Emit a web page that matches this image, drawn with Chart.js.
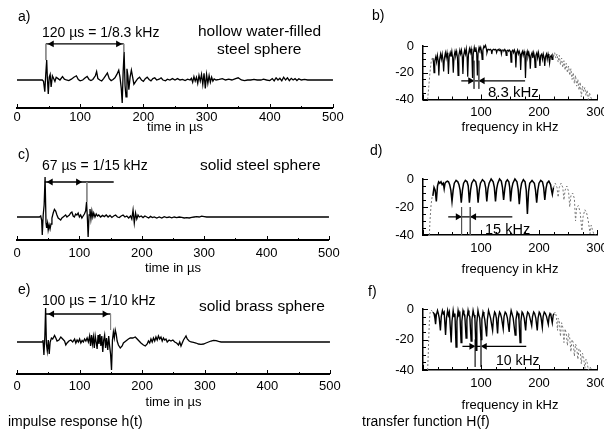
<!DOCTYPE html>
<html><head><meta charset="utf-8">
<script src="https://cdn.jsdelivr.net/npm/chart.js@4.4.1/dist/chart.umd.min.js"></script>
<style>
html,body{margin:0;padding:0;background:#fff;overflow:hidden;width:604px;height:430px}
#wrap{position:relative;width:604px;height:430px;overflow:hidden;font-family:"Liberation Sans",Arial,Helvetica,sans-serif;color:#000}
.cv{position:absolute}
.t{position:absolute;white-space:nowrap;line-height:1;transform:translateY(-50%)}
</style></head><body><div id="wrap">
<div class="cv" style="left:0;top:0"><canvas id="ca" width="345" height="140"></canvas></div>
<div class="cv" style="left:0;top:140px"><canvas id="cc" width="345" height="140"></canvas></div>
<div class="cv" style="left:0;top:280px"><canvas id="ce" width="345" height="150"></canvas></div>
<div class="cv" style="left:360px;top:0"><canvas id="cb" width="260" height="140"></canvas></div>
<div class="cv" style="left:360px;top:140px"><canvas id="cd" width="260" height="140"></canvas></div>
<div class="cv" style="left:360px;top:280px"><canvas id="cf" width="260" height="150"></canvas></div>

<div class="t" style="left:18px;top:16px;font-size:14px">a)</div>
<div class="t" style="left:372px;top:15px;font-size:14px">b)</div>
<div class="t" style="left:18px;top:154px;font-size:14px">c)</div>
<div class="t" style="left:370px;top:150px;font-size:14px">d)</div>
<div class="t" style="left:18px;top:289px;font-size:14px">e)</div>
<div class="t" style="left:368px;top:291px;font-size:14px">f)</div>
<div class="t" style="left:42px;top:32px;font-size:14px">120 µs = 1/8.3 kHz</div>
<div class="t" style="left:198px;top:31px;font-size:15.5px">hollow water-filled</div>
<div class="t" style="left:217px;top:49px;font-size:15.5px">steel sphere</div>
<div class="t" style="left:42px;top:165px;font-size:14px">67 µs = 1/15 kHz</div>
<div class="t" style="left:200px;top:165px;font-size:15.5px">solid steel sphere</div>
<div class="t" style="left:42px;top:300px;font-size:14px">100 µs = 1/10 kHz</div>
<div class="t" style="left:199px;top:306px;font-size:15.5px">solid brass sphere</div>
<div class="t" style="left:8px;top:421px;font-size:14px">impulse response h(t)</div>
<div class="t" style="left:488px;top:91px;font-size:15px">8.3 kHz</div>
<div class="t" style="left:485px;top:229px;font-size:14.5px">15 kHz</div>
<div class="t" style="left:496px;top:360px;font-size:14px">10 kHz</div>
<div class="t" style="left:362px;top:421px;font-size:14px">transfer function H(f)</div>
</div>
<script>
// ---------- tick labels ----------
const timeTickLabels = [0, 100, 200, 300, 400, 500];
const freqTickLabels = [100, 200, 300];
const dbTickLabels = [0, -20, -40];

// ---------- a) hollow water-filled steel sphere : impulse response ----------
const tA = [0,40,42,44,45.5,47,48,49.5,51,52.5,54,56,58,60,62,65,68,72,75,78,82,86,90,94,97,100,104,108,111,114,117,120,124,126,128,131,134,137,140,143,146,149,152,155,158,161,163,165,166.5,168,169.5,171,172.5,174,175.5,177,179,181,183,185,188,191,194,197,200,203,206,209,212,215,218,221,225,228,231,235,238,242,246,250,254,258,262,266,270,274,276,278,280,282,284,286,288,290,292,294,296,298,300,302,304,306,308,310,312,315,320,325,330,335,340,346,350,355,360,365,370,375,380,386,390,395,400,404,407,410,413,416,419,422,425,428,431,434,437,440,443,446,450,455,460,470,480,490,500];
const hA = [0,0,-0.05,-0.42,0.2,0.71,0.1,-0.5,0.1,0.2,-0.25,0.15,0.05,-0.05,0.1,0.05,0,0.12,0.03,0,-0.02,0.03,0.1,0.15,0.02,-0.03,0,0.08,0.13,0.02,-0.02,0.02,0.15,0.3,0.05,0,-0.03,0.05,0.15,0.25,0.05,-0.02,0.02,0.08,0.2,0.35,0.1,-0.3,-0.82,0.3,1.0,-0.2,-0.6,0.4,0.15,-0.35,0.1,0.35,0.1,-0.15,-0.05,0.05,0.1,0,-0.05,0.05,0.1,0.02,-0.03,0.05,0.08,0,0.03,0.08,0,-0.03,0.03,0,0.05,0,0.05,0,0.02,-0.02,0.03,0,0.06,-0.08,0.12,-0.04,0.1,-0.12,0.16,-0.04,0.2,-0.16,0.24,-0.3,0.2,-0.12,0.16,-0.08,0.1,-0.04,0.04,0,0.02,0.05,0,0.03,0,0.05,0.08,0,-0.02,0,0,0.02,0,0,0.03,0,-0.02,0.05,-0.03,0.08,0,0.06,-0.03,0.1,0,0.08,-0.02,0.06,0,0.05,-0.02,0.04,0,0.02,0,0,0,0,0];
const markA = [45.7, 169];        // marker times (µs)
const markTopA = 1.29;             // arrow level
const markBotA = [0.71, 1.0];      // lower ends of the marker lines
const headA = [55, 160];           // arrowhead centres (µs)
const lineA = [45.7, 169];         // arrow shaft

// ---------- c) solid steel sphere ----------
const tC = [0,36,38,39.5,40.5,42,43.5,45,46.5,47.5,49,50,51.5,53,54.5,56,58,60,62,64,66,68,70,72,74,76,78,80,82,84,86,88,90,92,94,96,98,100,102,104,106,108,110,111.5,113,114,115.5,117,118.5,120,121.5,123,125,127,129,131,134,137,140,143,146,149,152,155,158,161,164,167,170,173,176,179,182,184,186,188,190,192,194,196,199,202,205,208,211,214,217,220,224,228,232,236,240,244,248,252,256,260,264,268,272,276,280,284,288,292,296,300,304,320,500];
const hC = [0,0,0.05,-0.15,-0.9,0.1,0.6,2.0,-0.3,-0.55,-0.3,-0.65,-0.4,-0.6,-0.35,-0.05,0.2,0.38,0.3,0.1,-0.05,-0.1,-0.15,-0.05,0,0.05,0.1,0,0.05,0.1,0.2,0.25,0.05,0,0.15,0.1,0.2,0,0.1,-0.05,0.05,0.15,0.3,0.75,-0.2,-1.0,0.1,0.4,-0.1,0.3,0,0.2,0,0.15,0.05,0.1,0,0.08,0.02,0.1,0,0.08,-0.02,0.05,0.1,0,-0.03,0.05,0.1,0,0.05,-0.05,0.05,-0.1,0.35,-0.3,0.2,-0.1,0.1,0,0.05,-0.03,0.05,0,-0.05,0.03,-0.03,0,-0.05,0,-0.05,0.02,-0.03,0,-0.04,0,-0.03,0,-0.02,-0.05,-0.03,-0.05,-0.02,0,0.02,0,0.04,0.02,0,0,0];
const markC = [44.5, 112];
const markTopC = 1.75;
const markBotC = [1.75, 0.75];
const headC = [54, 98];
const lineC = [44.5, 155];

// ---------- e) solid brass sphere ----------
const tE = [0,40,41.5,43,44.5,45.7,47,48.4,50,51.5,53,55,57,60,62,64,67,70,73,76,78,80,83,86,89,92,94,96,98,100,102,104,106,108,110,112,114,116,117.5,119,120.5,122,123.5,125,126.5,128,129.5,131,132.5,134,135.5,137,138.5,140,141.5,143,145,146.5,148,149.5,151,152.5,154,155.5,157,158.5,160,162,165,168,170,174,178,181,185,189,192,195,198,202,205,208,210,212,214,216,218,220,222,224,226,228,230,232,234,236,238,240,243,246,249,252,255,258,260,262,264,266,268,270,272,275,278,282,286,290,294,298,302,306,310,314,318,322,326,332,500];
const hE = [0,0,0.1,-0.65,0.3,1.7,-0.1,-0.45,0.1,-0.6,0,0.2,0.15,0.33,0.2,0.05,0.1,0.25,0.15,0.05,-0.15,-0.05,0.05,0.1,0,0.15,-0.05,0.1,0,0.15,-0.05,0.08,0,0.15,0.05,0.2,0,0.3,-0.2,0.35,-0.1,0.25,-0.3,0.3,0,-0.35,0.35,-0.1,0.4,-0.2,0.3,-0.5,0.1,0.35,-0.3,0.2,-0.4,0.3,-0.2,-0.6,-1.4,0.1,0.5,0.2,0.6,0.4,0.05,-0.15,-0.3,-0.2,-0.05,0.05,0.15,0.2,0.2,0.25,0.15,0.05,-0.05,-0.15,-0.2,-0.1,0.05,-0.05,0.15,0,0.2,0.05,0.25,0.1,0.3,0.15,0.25,0.05,0.2,0.1,0.15,0,0.1,0.05,0.1,0,-0.05,-0.15,0,-0.2,-0.05,0.1,0.2,0.3,0.15,0.05,0,-0.02,-0.05,-0.1,-0.12,-0.1,-0.05,0,0.05,0.08,0.07,0.03,0,0,0];
const markE = [45.7, 149.5];
const markTopE = 1.4;
const markBotE = [1.4, 0.6];
const headE = [56, 140];
const lineE = [45.7, 149.5];

// ---------- b) transfer function, hollow sphere ----------
const fB = [17,18,19,20.3,22,23.3,24.8,26.2, 27.3,28.6,30.3,31.6,33.1,34.5, 35.6,36.9,38.6,39.9,41.4,42.8, 43.9,45.2,46.9,48.2,49.7,51.1, 52.2,53.5,55.2,56.5,58,59.4, 60.5,61.8,63.5,64.8,66.3,67.7, 68.8,70.1,71.8,73.1,74.6,76, 77.1,78.4,80.1,81.4,82.9,84.3, 85.4,86.7,88.4,89.7,91.2,92.6, 93.7,95,96.7,98,99.5,100.9, 102,103.3,105,106.3,107.8,109.2, 110.3,111.6,113.3,114.6,116.1,117.5, 118.6,119.9,121.6,122.9,124.4,125.8, 126.9,128.2,129.9,131.2,132.7,134.1, 135.2,136.5,138.2,139.5,141,142.4, 143.5,144.8,146.5,147.8,149.3,150.7, 151.8,153.1,154.8,156.1,157.6,159, 160.1,161.4,163.1,164.4,165.9,167.3, 168.4,169.7,171.4,172.7,174.2,175.6, 176.7,178,179.7,181,182.5,183.9, 185,186.3,188,189.3,190.8,192.2, 193.3,194.6,196.3,197.6,199.1,200.5, 201.6,202.9,204.6,205.9,207.4,208.8, 209.9,211.2,212.9,214.2,215.7,217.1, 218.2,219.5,221.2,222.5,224,225];
const dbB = [-9,-12,-20,-11,-8,-12,-7,-11, -22,-10,-6,-10,-6,-11, -19,-9,-5,-9,-5,-10, -21,-8,-5,-8,-4,-9, -20,-8,-4,-7,-4,-9, -22,-7,-3,-6,-3,-8, -21,-7,-3,-6,-2,-8, -23,-6,-2,-5,-2,-7, -24,-6,-1,-4,-1,-6, -22,-5,-1,-3,-1,-4, -10,-3,0,-1,0.5,-2, -5,-3,-2.5,-3,-2.5,-3, -6,-3,-2.5,-3,-2.5,-3, -5,-3,-2.5,-3.5,-2.5,-3, -6,-3,-3,-3.5,-2.5,-3.5, -7,-3.5,-3,-4,-3,-4, -12,-4,-3,-5,-3,-5, -16,-5,-3,-6,-4,-6, -18,-6,-4,-7,-4,-7, -24,-7,-4,-8,-5,-8, -17,-7,-5,-9,-5,-8, -16,-7,-5,-9,-5,-9, -15,-7,-6,-10,-6,-9, -15,-8,-6,-10,-6,-9, -13,-8,-7,-10,-7,-8];
const fBlow = [8,10,12,14,16,17];
const dbBlow = [-40,-30,-20,-12,-9,-9];
const fBhigh = [225,227,229,231,233,235,237,239,241,243,245,247,249,251,253,255,257,259,261,263,265,267,269,271,273,275,277,279,281,283,285,287,289,291];
const dbBhigh = [-8,-5,-9,-6,-12,-7,-14,-9,-16,-11,-18,-13,-20,-15,-22,-17,-25,-20,-28,-22,-30,-25,-33,-27,-38,-30,-34,-31,-37,-33,-40,-35,-38,-40];
const markB = [88, 96.3];
const markTopB = -11, markBotB = -32;
const arrowYB = -26;
const headB = [81.5, 102.8];
const lineB = [66, 176];

// ---------- d) transfer function, solid steel sphere ----------
const fD = [17,19,21,23,25,27,29,31,33,35,36.5,38,40,42,44,46,48,50,52,54,57,60,62,64,66,68,70,73,76,78,80,82,84,87.5,91,93,95,97,99,102.5,106,108,110,112,114,117.5,121,123,125,127,129,132,135,137,139,141,143,145.5,148,149.5,151,153,155,158.5,162,164,166,168,170,173,176,178,180,182,184,188,192,194,196,198,200,203,206,208,210,212,214,217,220,221.5,223,225];
const dbD = [-12,-6,-8,-16,-5,-2,-3,-2,-4,-3,-7,-3,-2,-1.5,-2,-4,-8,-16,-8,-3,-1,-2,-4,-8,-17,-8,-3,-1,-2,-5,-17,-8,-3,-0.5,-2,-6,-17,-8,-3,-0.5,-2,-6,-16,-7,-3,0,-2,-6,-16,-7,-3,0,-1.5,-6,-15,-7,-2,-0.5,-2,-6,-16,-7,-3,0,-2,-7,-18,-8,-3,-0.5,-2,-8,-25,-9,-3,-1,-3,-8,-17,-8,-3,-1,-2,-6,-15,-7,-3,-1.5,-4,-8,-11,-6];
const fDlow = [11,12,14,16,17];
const dbDlow = [-40,-30,-18,-12,-12];
const fDhigh = [225,228,231,233,235,238,241,243,245,248,251,253,255,258,261,263,265,268,271,274,276,279,282,285,288,290,292,295,298];
const dbDhigh = [-6,-3,-6,-13,-6,-3,-6,-15,-8,-5,-9,-20,-12,-10,-14,-30,-20,-19,-24,-37,-27,-22,-24,-30,-39,-33,-36,-40,-40];
const markD = [66.5, 81.5];
const markTopD = -20, markBotD = -40;
const arrowYD = -27;
const headD = [60, 88];
const lineD = [43.5, 154];

// ---------- f) transfer function, solid brass sphere ----------
const fF = [17,19,20.5,21.7,23,25,26.5,28,30,31.5,33.5,35,36.5,38.9,40.5,42.5,44,45.5,48.6,50,52,53.5,55,57,58.5,60.5,62,63.5,65.7,67,69,70.5,72,74.3,75.7,77.7,79.2,80.7,83,84.4,86.4,88,89.5,91.4,92.8,94.8,96.3,97.8,100,101.5,103.5,105,106.5,109.7,111,113,114.5,116.5,120,121.5,123.5,125,126.5,128.6,130,132,133.5,135.5,138.3,139.7,141.7,143.5,145.5,148.6,150,152,153.5,155.5,158.9,160.3,162.3,164,165.5,167.4,168.8,170.8,172.5,174.5,177,178.4,180.4,182.5,184.5,187.4,188.8,190.8,192.5,194.5,197,198.4,200.4,202,203.7,205.7,207.1,209.1,211,213,216,217.4,219,220.5,222.9,224.5,226];
const dbF = [-2,-3,-6,-10,-4,-1,-3,-6,-14,-5,-1,-3,-2,-17,-6,-1,-4,-2,-22,-8,-1,-5,-3,-25,-8,-1,-4,-3,-22,-8,-1,-3,-4,-19,-7,-1,-4,-5,-21,-7,-1,-4,-6,-27,-9,-1,-4,-6,-20,-7,-2,-4,-7,-18,-7,-1,-3,-6,-14,-6,-2,-3,-6,-16,-6,-2,-3,-6,-13,-5,-2,-3,-6,-15,-6,-1,-3,-6,-17,-7,-2,-3,-7,-22,-8,-2,-3,-6,-14,-6,-2,-3,-6,-11,-5,-2,-3,-6,-14,-6,-2,-3,-6,-12,-5,-2,-3,-5,-10,-5,-3,-4,-9,-4,-3];
const fFlow = [8,9,10,11,12,13,15,17];
const dbFlow = [-40,-30,-18,-8,-3,-1,-1,-2];
const fFhigh = [226,228,230,232,233,235,237,239,241,243,245,247,249,251,253,255,257,259,261,263,265,267,269,271,273,275,277,279,281,283,285,288,291];
const dbFhigh = [-3,-2,-5,-14,-6,-8,-18,-9,-12,-22,-13,-16,-24,-16,-19,-28,-20,-22,-31,-23,-25,-33,-26,-27,-36,-29,-32,-39,-33,-35,-40,-38,-40];
const markF = [90, 100];
const markTopF = -20, markBotF = -38;
const arrowYF = -24.5;
const headF = [83.5, 106.5];
const lineF = [68, 178];

// ---------- helpers ----------
Chart.defaults.font.family = '"Liberation Sans", Arial, Helvetica, sans-serif';
Chart.defaults.color = '#000';

function xy(xs, ys) { return xs.map((x, i) => ({x: x, y: ys[i]})); }

const inTicks = {
  id: 'inTicks',
  afterDraw(chart, args, o) {
    const ctx = chart.ctx, a = chart.chartArea;
    ctx.save(); ctx.strokeStyle = '#000'; ctx.lineWidth = 1;
    if (o.x) {
      const s = chart.scales.x;
      s.ticks.forEach(t => {
        const p = Math.round(s.getPixelForValue(t.value)) + 0.5;
        const len = (t.value % o.x.every === 0) ? o.x.major : o.x.minor;
        ctx.beginPath(); ctx.moveTo(p, a.bottom); ctx.lineTo(p, a.bottom - len); ctx.stroke();
      });
    }
    if (o.y) {
      const s = chart.scales.y;
      s.ticks.forEach(t => {
        const p = Math.round(s.getPixelForValue(t.value)) + 0.5;
        const len = (t.value % o.y.every === 0) ? o.y.major : o.y.minor;
        ctx.beginPath(); ctx.moveTo(a.left, p); ctx.lineTo(a.left + len, p); ctx.stroke();
      });
    }
    ctx.restore();
  }
};

function seg(x1, y1, x2, y2, color, w) {
  return {data: [{x: x1, y: y1}, {x: x2, y: y2}], borderColor: color, borderWidth: w, pointRadius: 0, clip: false};
}
function heads(xs, y, rots) {
  return {data: xs.map(x => ({x: x, y: y})), showLine: false, pointStyle: 'triangle', pointRadius: 4,
    pointRotation: rots, pointBackgroundColor: '#000', pointBorderColor: '#000', pointBorderWidth: 0, clip: false};
}

function timeChart(id, t, h, mark, top, bot, head, line, c) {
  new Chart(document.getElementById(id), {
    type: 'line',
    data: {datasets: [
      {data: xy(t, h), borderColor: '#000', borderWidth: 1.3, pointRadius: 0, clip: false},
      seg(mark[0], top, mark[0], bot[0], '#888', 1),
      seg(mark[1], top, mark[1], bot[1], '#888', 1),
      seg(line[0], top, line[1], top, '#000', 1.3),
      heads(head, top, [-90, 90])
    ]},
    options: {
      responsive: false, animation: false, devicePixelRatio: 1,
      layout: {padding: {left: 17, right: 11, top: c.top, bottom: 0}},
      plugins: {legend: {display: false}, tooltip: {enabled: false}, inTicks: {x: {every: 100, major: 4, minor: 2}}},
      scales: {
        x: {type: 'linear', min: 0, max: 500,
          ticks: {stepSize: 50, padding: c.tp, autoSkip: false, maxRotation: 0, font: {size: 13},
            callback: v => timeTickLabels.includes(v) ? String(v) : ''},
          grid: {display: false, drawTicks: false},
          border: {display: true, color: '#000', width: 2},
          title: {display: true, text: 'time in µs', font: {size: 13}, padding: {top: 0, bottom: c.pb}},
          afterFit: s => { s.height = c.xh; }},
        y: {display: false, min: c.ymin, max: c.ymax}
      }
    },
    plugins: [inTicks]
  });
}

function freqChart(id, f, db, fl, dbl, fh, dbh, mark, mTop, mBot, ay, head, line, c) {
  const gray = xy(fl, dbl).concat([{x: (fl[fl.length - 1] + fh[0]) / 2, y: null}], xy(fh, dbh));
  new Chart(document.getElementById(id), {
    type: 'line',
    data: {datasets: [
      {data: gray, borderColor: '#777', borderWidth: 1, borderDash: [2, 2], pointRadius: 0, spanGaps: false, clip: false},
      {data: xy(f, db), borderColor: '#000', borderWidth: c.lw, pointRadius: 0, clip: false},
      seg(mark[0], mTop, mark[0], mBot, '#555', 1),
      seg(mark[1], mTop, mark[1], mBot, '#555', 1),
      seg(line[0], ay, line[1], ay, '#000', 1.2),
      heads(head, ay, [90, -90])
    ]},
    options: {
      responsive: false, animation: false, devicePixelRatio: 1,
      layout: {padding: {left: 0, right: 23, top: c.top, bottom: 0}},
      plugins: {legend: {display: false}, tooltip: {enabled: false},
        inTicks: {x: {every: 100, major: 5, minor: 3}, y: {every: 20, major: 5, minor: 3}}},
      scales: {
        x: {type: 'linear', min: 0, max: 300,
          ticks: {stepSize: 25, padding: c.tp, autoSkip: false, maxRotation: 0, font: {size: 13},
            callback: v => freqTickLabels.includes(v) ? String(v) : ''},
          grid: {display: false, drawTicks: false},
          border: {display: true, color: '#000', width: 1.5},
          title: {display: true, text: 'frequency in kHz', font: {size: 13}, padding: {top: 0, bottom: c.pb}},
          afterFit: s => { s.height = c.xh; }},
        y: {min: -40, max: 0,
          ticks: {stepSize: 5, padding: 9, autoSkip: false, font: {size: 13},
            callback: v => dbTickLabels.includes(v) ? String(v) : ''},
          grid: {display: false, drawTicks: false},
          border: {display: true, color: '#000', width: 1.5},
          afterFit: s => { s.width = 63; }}
      }
    },
    plugins: [inTicks]
  });
}

timeChart('ca', tA, hA, markA, markTopA, markBotA, headA, lineA, {top: 30, xh: 32, tp: 1.2, pb: 5.2, ymin: -1, ymax: 1.786});
timeChart('cc', tC, hC, markC, markTopC, markBotC, headC, lineC, {top: 20, xh: 40, tp: 5.2, pb: 4.2, ymin: -1.15, ymax: 2.85});
timeChart('ce', tE, hE, markE, markTopE, markBotE, headE, lineE, {top: 10, xh: 56, tp: 4.2, pb: 20.2, ymin: -1.6, ymax: 2.6});

freqChart('cb', fB, dbB, fBlow, dbBlow, fBhigh, dbBhigh, markB, markTopB, markBotB, arrowYB, headB, lineB, {top: 46, xh: 40.5, tp: 4.7, pb: 5.2, lw: 1.2});
freqChart('cd', fD, dbD, fDlow, dbDlow, fDhigh, dbDhigh, markD, markTopD, markBotD, arrowYD, headD, lineD, {top: 39, xh: 45, tp: 5.2, pb: 3.2, lw: 1.5});
freqChart('cf', fF, dbF, fFlow, dbFlow, fFhigh, dbFhigh, markF, markTopF, markBotF, arrowYF, headF, lineF, {top: 29, xh: 60, tp: 5.2, pb: 17.2, lw: 1.4});
</script>
</body></html>
